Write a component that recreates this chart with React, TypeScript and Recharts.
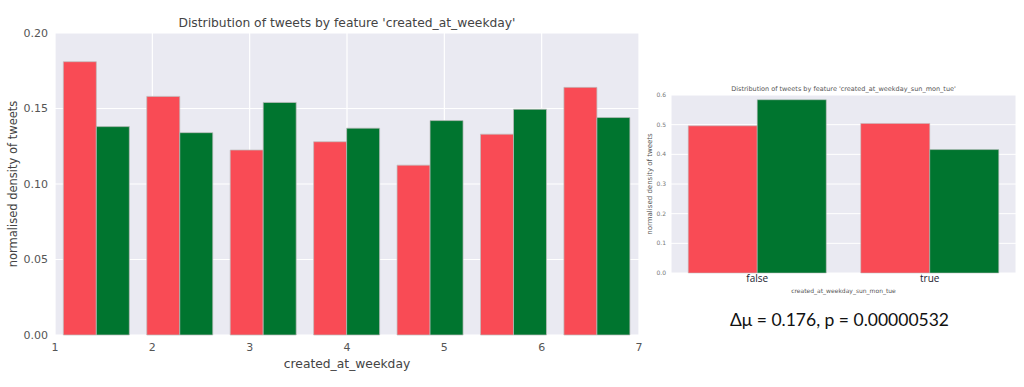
import { BarChart, Bar, XAxis, YAxis, CartesianGrid } from 'recharts';

// histogram bins of created_at_weekday, edges spread evenly over [1, 7]
const weekdayBinStart = 1;
const weekdayBinEnd = 7;
const redWeekday = [0.181, 0.158, 0.1225, 0.128, 0.1125, 0.133, 0.164];
const greenWeekday = [0.138, 0.134, 0.154, 0.137, 0.142, 0.1495, 0.144];
const weekdayTicks = [1, 2, 3, 4, 5, 6, 7];
const weekdayYTicks = [0, 0.05, 0.1, 0.15, 0.2];

const flags = ['false', 'true'];
const redFlag = [0.496, 0.504];
const greenFlag = [0.584, 0.416];
const flagYTicks = [0, 0.1, 0.2, 0.3, 0.4, 0.5, 0.6];
const flagGridTicks = [0, 1, 2, 3, 4, 5];

const RED = '#F94B55';
const GREEN = '#00752F';
const EDGE = 'rgba(190,190,190,0.9)';
const FONT = '"DejaVu Sans", sans-serif';

const binWidth = (weekdayBinEnd - weekdayBinStart) / redWeekday.length;
const weekdayData = redWeekday.map((r, i) => ({
  x: weekdayBinStart + (i + 0.5) * binWidth,
  red: r,
  green: greenWeekday[i],
}));
const flagData = flags.map((f, i) => ({ flag: f, red: redFlag[i], green: greenFlag[i] }));

const abs = (left: number, top: number): React.CSSProperties => ({
  position: 'absolute',
  left,
  top,
  whiteSpace: 'nowrap',
});

export default function App() {
  return (
    <div style={{ position: 'absolute', left: 0, top: 0, width: 1024, height: 387, background: '#fff', fontFamily: FONT }}>
      {/* left chart */}
      <div style={{ ...abs(0, 0) }}>
        <BarChart
          width={660}
          height={387}
          data={weekdayData}
          margin={{ top: 33, right: 21, left: 10, bottom: 22 }}
          barCategoryGap="10%"
          barGap={0}
        >
          <CartesianGrid fill="#EAEAF2" stroke="#fff" strokeWidth={1.2} />
          <XAxis
            dataKey="x"
            type="number"
            domain={[weekdayBinStart, weekdayBinEnd]}
            ticks={weekdayTicks}
            allowDataOverflow
            height={30}
            axisLine={false}
            tickLine={false}
            tickSize={0}
            tickMargin={8}
            tick={{ fill: '#555', fontSize: 11, fontFamily: FONT }}
          />
          <YAxis
            domain={[0, 0.2]}
            ticks={weekdayYTicks}
            width={45}
            axisLine={false}
            tickLine={false}
            tickSize={0}
            tickMargin={7}
            tickFormatter={(v: number) => v.toFixed(2)}
            tick={{ fill: '#555', fontSize: 11, fontFamily: FONT }}
          />
          <Bar dataKey="red" fill={RED} stroke={EDGE} strokeWidth={0.8} isAnimationActive={false} />
          <Bar dataKey="green" fill={GREEN} stroke={EDGE} strokeWidth={0.8} isAnimationActive={false} />
        </BarChart>
      </div>
      <div style={{ ...abs(55, 16), width: 584, textAlign: 'center', fontSize: 12.3, color: '#444' }}>
        Distribution of tweets by feature 'created_at_weekday'
      </div>
      <div style={{ ...abs(55, 357), width: 584, textAlign: 'center', fontSize: 12.3, color: '#444' }}>
        created_at_weekday
      </div>
      <div
        style={{
          ...abs(13, 184),
          fontSize: 11.5,
          color: '#444',
          transform: 'translate(-50%, -50%) rotate(-90deg)',
        }}
      >
        normalised density of tweets
      </div>

      {/* right chart */}
      <div style={{ ...abs(640, 70) }}>
        <BarChart
          width={384}
          height={230}
          data={flagData}
          margin={{ top: 25, right: 8, left: 9, bottom: 7 }}
          barCategoryGap="10%"
          barGap={0}
        >
          <CartesianGrid xAxisId="grid" fill="#EAEAF2" stroke="#fff" strokeWidth={1} />
          <XAxis xAxisId="grid" type="number" domain={[0, 5]} ticks={flagGridTicks} allowDataOverflow hide />
          <XAxis
            xAxisId="flag"
            dataKey="flag"
            height={20}
            axisLine={false}
            tickLine={false}
            tickSize={0}
            tickMargin={2}
            tick={{ fill: '#1a1a2e', fontSize: 10, fontFamily: '"Open Sans", sans-serif' }}
          />
          <YAxis
            domain={[0, 0.6]}
            ticks={flagYTicks}
            width={22}
            axisLine={false}
            tickLine={false}
            tickSize={0}
            tickMargin={5}
            tickFormatter={(v: number) => v.toFixed(1)}
            tick={{ fill: '#777', fontSize: 6, fontFamily: FONT }}
          />
          <Bar xAxisId="flag" dataKey="red" fill={RED} stroke={EDGE} strokeWidth={0.6} isAnimationActive={false} />
          <Bar xAxisId="flag" dataKey="green" fill={GREEN} stroke={EDGE} strokeWidth={0.6} isAnimationActive={false} />
        </BarChart>
      </div>
      <div style={{ ...abs(671, 85), width: 345, textAlign: 'center', fontSize: 6.5, color: '#555' }}>
        Distribution of tweets by feature 'created_at_weekday_sun_mon_tue'
      </div>
      <div style={{ ...abs(671, 287), width: 345, textAlign: 'center', fontSize: 6, color: '#555' }}>
        created_at_weekday_sun_mon_tue
      </div>
      <div
        style={{
          ...abs(650, 184),
          fontSize: 7,
          color: '#555',
          transform: 'translate(-50%, -50%) rotate(-90deg)',
        }}
      >
        normalised density of tweets
      </div>

      <div style={{ ...abs(730, 309), fontSize: 17.5, color: '#111', fontFamily: 'Lato, "Open Sans", sans-serif' }}>
        Δμ = 0.176, p = 0.00000532
      </div>
    </div>
  );
}
